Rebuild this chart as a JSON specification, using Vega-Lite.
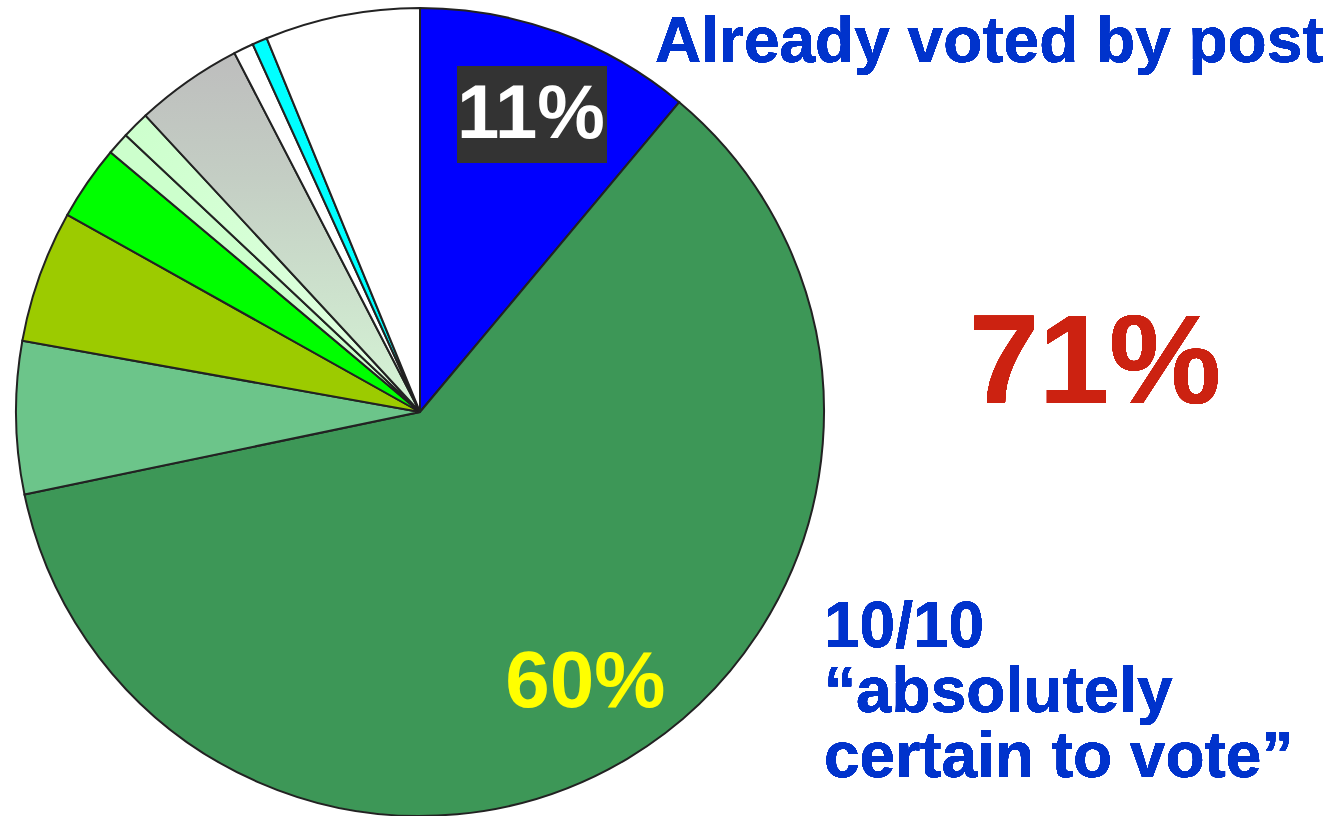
{
  "$schema": "https://vega.github.io/schema/vega-lite/v6.json",
  "width": 840,
  "height": 824,
  "padding": 0,
  "background": "white",
  "config": {"view": {"stroke": null}},
  "data": {"values": [
    {"idx": 1, "cat": "Already voted by post", "value": 11.1, "label": "11%"},
    {"idx": 2, "cat": "10/10", "value": 60.7, "label": "60%"},
    {"idx": 3, "cat": "9/10", "value": 6.1, "label": ""},
    {"idx": 4, "cat": "8/10", "value": 5.3, "label": ""},
    {"idx": 5, "cat": "7/10", "value": 3.0, "label": ""},
    {"idx": 6, "cat": "6/10", "value": 0.9, "label": ""},
    {"idx": 7, "cat": "5/10", "value": 1.1, "label": ""},
    {"idx": 8, "cat": "0-4/10", "value": 4.3, "label": ""},
    {"idx": 9, "cat": "Refused", "value": 0.8, "label": ""},
    {"idx": 10, "cat": "Not registered", "value": 0.6, "label": ""},
    {"idx": 11, "cat": "Don't know", "value": 6.2, "label": ""}
  ]},
  "layer": [
    {
      "mark": {"type": "arc", "radius": 404, "stroke": "#222222", "strokeWidth": 2},
      "encoding": {
        "theta": {"field": "value", "type": "quantitative", "stack": true},
        "order": {"field": "idx", "type": "quantitative"},
        "fill": {
          "condition": [
            {"test": "datum.idx === 8", "value": {"gradient": "linear", "x1": 0, "y1": 0, "x2": 0, "y2": 1, "stops": [{"offset": 0, "color": "#bdbdbd"}, {"offset": 0.35, "color": "#c4cec4"}, {"offset": 1, "color": "#d6f6d6"}]}},
            {"test": "datum.idx === 7", "value": {"gradient": "linear", "x1": 0, "y1": 0, "x2": 1, "y2": 1, "stops": [{"offset": 0, "color": "#ccffcc"}, {"offset": 1, "color": "#e4ffe4"}]}}
          ],
          "field": "cat",
          "type": "nominal",
          "scale": {
            "domain": ["Already voted by post", "10/10", "9/10", "8/10", "7/10", "6/10", "5/10", "0-4/10", "Refused", "Not registered", "Don't know"],
            "range": ["#0000ff", "#3d9757", "#6cc58a", "#9ccb00", "#00ff00", "#ccffcc", "#ccffcc", "#c0c0c0", "#ffffff", "#00ffff", "#ffffff"]
          },
          "legend": null
        }
      }
    },
    {
      "mark": {"type": "rect", "x": 457, "x2": 607, "y": 66, "y2": 163, "fill": "#333333"},
      "encoding": {}
    },
    {
      "mark": {"type": "text", "radius": 316, "dx": 3, "font": "Liberation Sans", "fontWeight": "bold", "align": "center", "baseline": "middle"},
      "encoding": {
        "theta": {"field": "value", "type": "quantitative", "stack": true},
        "order": {"field": "idx", "type": "quantitative"},
        "text": {"field": "label"},
        "color": {"condition": {"test": "datum.idx === 1", "value": "#ffffff"}, "value": "#ffff00"},
        "size": {"condition": {"test": "datum.idx === 1", "value": 76}, "value": 80}
      }
    },
    {
      "mark": {"type": "text", "x": 655, "y": 62, "align": "left", "baseline": "alphabetic", "text": "Already voted by post", "font": "Liberation Sans", "fontWeight": "bold", "fontSize": 64, "color": "#0033cc"},
      "encoding": {}
    },
    {
      "mark": {"type": "text", "x": 1095, "y": 403, "align": "center", "baseline": "alphabetic", "text": "71%", "font": "Liberation Sans", "fontWeight": "bold", "fontSize": 126, "color": "#cc2211"},
      "encoding": {}
    },
    {
      "mark": {"type": "text", "x": 824, "y": 647, "align": "left", "baseline": "alphabetic", "text": ["10/10", "“absolutely", "certain to vote”"], "lineHeight": 65, "font": "Liberation Sans", "fontWeight": "bold", "fontSize": 64, "color": "#0033cc"},
      "encoding": {}
    }
  ]
}
